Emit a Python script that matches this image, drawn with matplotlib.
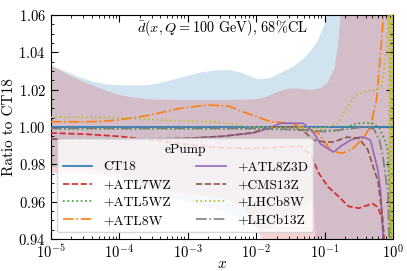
import numpy as np
import matplotlib
matplotlib.use("Agg")
import matplotlib.pyplot as plt
from matplotlib.ticker import AutoMinorLocator, MultipleLocator

plt.rcParams['font.family'] = 'serif'
plt.rcParams['font.serif'] = ['cmr10', 'DejaVu Serif']
plt.rcParams['mathtext.fontset'] = 'cm'
plt.rcParams['axes.formatter.use_mathtext'] = True

# ---- data (x given as log10 x) ----
labels = ['CT18', '+ATL7WZ', '+ATL5WZ', '+ATL8W',
          '+ATL8Z3D', '+CMS13Z', '+LHCb8W', '+LHCb13Z']

ct18_lx = [-5, 0]
ct18_y = [1.0, 1.0]

atl7wz_lx = [-5, -4.5, -4, -3.5, -3, -2.5, -2, -1.6, -1.35, -1.2, -1.08, -0.95,
             -0.8, -0.65, -0.5, -0.38, -0.3, -0.22, -0.17, -0.14, -0.12]
atl7wz_y = [0.9968, 0.9962, 0.995, 0.993, 0.9905, 0.9888, 0.9885, 0.9893, 0.9897,
            0.985, 0.975, 0.968, 0.963, 0.9575, 0.9565, 0.958, 0.959, 0.957,
            0.952, 0.945, 0.93]

atl5wz_lx = [-5, -3, -2, -1.5, -1.2, -0.95, -0.8, -0.65, -0.5, -0.4, -0.3, -0.2,
             -0.13, -0.08, -0.05, -0.03, -0.02]
atl5wz_y = [0.999, 0.999, 0.999, 0.9985, 0.998, 0.9982, 0.998, 1.0005, 1.002,
            1.0022, 1.002, 0.9995, 0.994, 0.989, 0.965, 0.94, 0.93]

atl8w_lx = [-5, -4.5, -4.28, -4, -3.55, -3.11, -2.71, -2.4, -2.18, -1.95, -1.79,
            -1.5, -1.35, -1.1, -0.9, -0.73, -0.57, -0.42, -0.33, -0.24, -0.18,
            -0.14, -0.12]
atl8w_y = [1.0028, 1.0028, 1.003, 1.0038, 1.0064, 1.010, 1.0118, 1.0112, 1.008,
           1.005, 1.0028, 1.002, 1.000, 0.997, 0.987, 0.986, 0.989, 0.995, 1.000,
           1.015, 1.040, 1.060, 1.075]

atl8z3d_lx = [-5, -4, -3.4, -3, -2.5, -2.04, -1.8, -1.64, -1.31, -1.16, -1.06,
              -0.87, -0.75, -0.62, -0.5, -0.43, -0.33, -0.22, -0.18, -0.15, -0.13]
atl8z3d_y = [0.9935, 0.9935, 0.9935, 0.994, 0.995, 0.9968, 0.9995, 1.002, 1.002,
             0.997, 0.991, 0.9866, 0.990, 0.993, 0.9945, 0.9946, 0.993, 0.977,
             0.965, 0.945, 0.93]

cms13z_lx = [-5, -4, -3, -2.5, -2.04, -1.79, -1.5, -1.31, -1.16, -1.0, -0.87,
             -0.67, -0.5, -0.37, -0.3, -0.22, -0.15, -0.12]
cms13z_y = [0.9935, 0.9935, 0.994, 0.995, 0.997, 1.000, 1.000, 0.998, 0.993,
            0.992, 0.992, 0.9946, 0.994, 0.988, 0.980, 0.971, 0.951, 0.93]

lhcb8w_lx = [-5, -4, -3.4, -2.6, -2.08, -1.5, -1.0, -0.8, -0.7, -0.55, -0.4,
             -0.25, -0.17, -0.13, -0.08, -0.06, -0.045, -0.035, -0.025, -0.015,
             -0.008, 0]
lhcb8w_y = [1.0053, 1.005, 1.0037, 1.0027, 1.000, 0.9995, 0.9995, 1.002, 1.009,
            1.017, 1.019, 1.020, 1.022, 1.030, 1.048, 1.065, 0.935, 1.065, 0.935,
            1.065, 0.935, 1.065]

lhcb13z_lx = [-5, -2, -1.3, -1.0, -0.66, -0.43, -0.28, -0.2, -0.15, -0.11,
              -0.075, -0.06, -0.05]
lhcb13z_y = [0.9993, 0.9993, 0.9985, 0.9975, 0.9989, 1.000, 0.999, 0.993, 0.985,
             0.974, 0.965, 0.945, 0.93]

# uncertainty bands
ct18_up_lx = [-5, -4.8, -4.6, -4.4, -4.2, -4.0, -3.8, -3.55, -3.3, -3.05, -2.81,
              -2.6, -2.4, -2.2, -2.05, -1.95, -1.8, -1.64, -1.45, -1.3, -1.2,
              -1.1, -1.0, -0.95, -0.9, 0]
ct18_up = [1.033, 1.030, 1.027, 1.0245, 1.023, 1.0224, 1.0222, 1.0225, 1.0245,
           1.027, 1.0292, 1.0303, 1.0306, 1.029, 1.0265, 1.0255, 1.0262, 1.029,
           1.0325, 1.037, 1.041, 1.046, 1.055, 1.065, 1.08, 1.08]
ct18_lo_lx = [-5, -4.5, -4, -3.8, -3.65, -3.4, -3.2, -3.0, -2.8, -2.5, -2.3,
              -2.1, -1.95, -1.8, -1.6, -1.4, -1.25, -1.15, -1.12, 0]
ct18_lo = [0.9786, 0.9778, 0.975, 0.971, 0.967, 0.964, 0.962, 0.960, 0.958,
           0.955, 0.952, 0.948, 0.945, 0.9455, 0.949, 0.955, 0.959, 0.961,
           0.92, 0.92]

ep_up_lx = [-5, -4.8, -4.6, -4.4, -4.2, -4.0, -3.8, -3.55, -3.2, -2.8, -2.4,
            -2.0, -1.85, -1.74, -1.6, -1.5, -1.35, -1.2, -1.05, -0.95, -0.85,
            -0.8, -0.72, 0]
ep_up = [1.033, 1.029, 1.0255, 1.0225, 1.0195, 1.0172, 1.0158, 1.0148, 1.0145,
         1.0145, 1.0145, 1.0148, 1.0162, 1.018, 1.0198, 1.0207, 1.0205, 1.0198,
         1.021, 1.024, 1.032, 1.045, 1.08, 1.08]
ep_lo_lx = [-5, -4.5, -4, -3.6, -3.0, -2.5, -2.2, -2.0, -1.85, -1.6, 0]
ep_lo = [0.9755, 0.975, 0.973, 0.969, 0.964, 0.962, 0.958, 0.946, 0.935, 0.92, 0.92]

series = [
    (ct18_lx, ct18_y, 'C0', '-'),
    (atl7wz_lx, atl7wz_y, 'C3', '--'),
    (atl5wz_lx, atl5wz_y, 'C2', ':'),
    (atl8w_lx, atl8w_y, 'C1', '-.'),
    (atl8z3d_lx, atl8z3d_y, 'C4', '-'),
    (cms13z_lx, cms13z_y, 'C5', '--'),
    (lhcb8w_lx, lhcb8w_y, 'C8', ':'),
    (lhcb13z_lx, lhcb13z_y, 'C7', '-.'),
]

fig = plt.figure(figsize=(4.07, 2.71), dpi=100)
ax = fig.add_axes([0.1246, 0.118, 0.8410, 0.8266])

def pow10(lx):
    return 10.0 ** np.asarray(lx, dtype=float)

# bands as polygons (upper edge then lower edge reversed)
bx = np.concatenate([pow10(ct18_up_lx), pow10(ct18_lo_lx)[::-1]])
by = np.concatenate([ct18_up, ct18_lo[::-1]])
ax.fill(bx, by, color='C0', alpha=0.2, lw=0, zorder=1)
rx = np.concatenate([pow10(ep_up_lx), pow10(ep_lo_lx)[::-1]])
ry = np.concatenate([ep_up, ep_lo[::-1]])
ax.fill(rx, ry, color='C3', alpha=0.2, lw=0, zorder=1)

for (lx, y, col, ls), lab in zip(series, labels):
    ax.plot(pow10(lx), y, color=col, ls=ls, lw=1.2, label=lab, zorder=3)

ax.set_xscale('log')
ax.set_xlim(1e-5, 1)
ax.set_ylim(0.94, 1.06)
ax.yaxis.set_major_locator(MultipleLocator(0.02))
ax.yaxis.set_minor_locator(AutoMinorLocator(4))
ax.tick_params(which='both', direction='in', top=True, right=True, labelsize=10.5)
ax.tick_params(which='major', length=5)
ax.tick_params(which='minor', length=2.5)

ax.set_xlabel(r'$x$', fontsize=11, labelpad=-3)
ax.set_ylabel('Ratio to CT18', fontsize=11, labelpad=2)
ax.text(0.5, 0.94, r'$\bar{d}(x,Q=100$ GeV$)$, 68%CL', transform=ax.transAxes,
        ha='center', va='center', fontsize=10.3)

ax.legend(loc='lower left', ncol=2, title='ePump', fontsize=9.7,
          title_fontsize=9.7, handlelength=2.2, columnspacing=1.9,
          labelspacing=0.4)

fig.savefig('out.png', dpi=100)
